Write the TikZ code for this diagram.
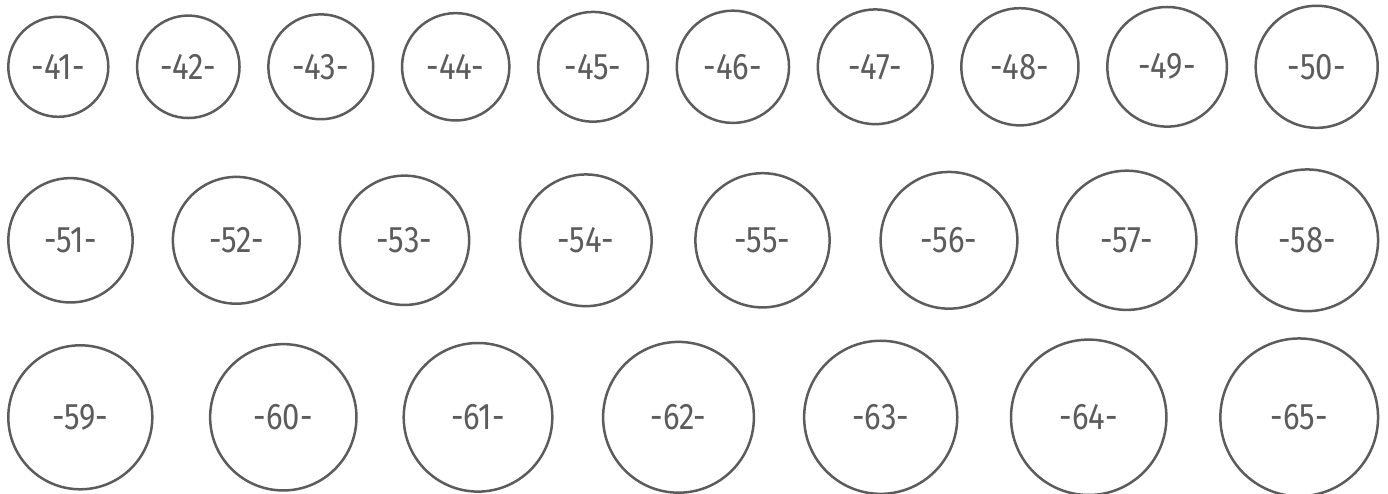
\documentclass[tikz,border=0pt]{standalone}
\usepackage{fontspec}
\setmainfont{Fira Sans}[FakeStretch=0.84]
\definecolor{ringgray}{RGB}{92,92,92}
\begin{document}
\begin{tikzpicture}[x=1pt,y=-1pt,
  ring/.style={circle, draw=ringgray, line width=2.5pt, inner sep=0pt,
    text=ringgray, font=\fontsize{37}{37}\selectfont}]
\useasboundingbox (0,0) rectangle (1388,494);
% row 1
\foreach \n/\x/\d in {41/58.3/100, 42/188.3/102.45, 43/320.8/104.9, 44/455.7/107.35,
  45/593.1/109.8, 46/732.9/112.25, 47/875.2/114.7, 48/1019.9/117.15,
  49/1167.1/119.6, 50/1316.7/122.05}
  \node[ring, minimum size=\d pt] (c\n) at (\x,66.8) {-\n-};
% row 2
\foreach \n/\x/\d in {51/70.5/124.3, 52/236.3/126.8, 53/404.5/129.3, 54/585.8/131.7,
  55/762.5/134.2, 56/949/136.7, 57/1126.8/139.2, 58/1307.2/141.7}
  \node[ring, minimum size=\d pt] (c\n) at (\x,240.3) {-\n-};
% row 3
\foreach \n/\x/\d in {59/80.3/144, 60/283.3/146.3, 61/478/148.6, 62/678.5/150.8,
  63/880.7/153.1, 64/1088.7/155.4, 65/1299.2/157.7}
  \node[ring, minimum size=\d pt] (c\n) at (\x,417.3) {-\n-};
\end{tikzpicture}
\end{document}
